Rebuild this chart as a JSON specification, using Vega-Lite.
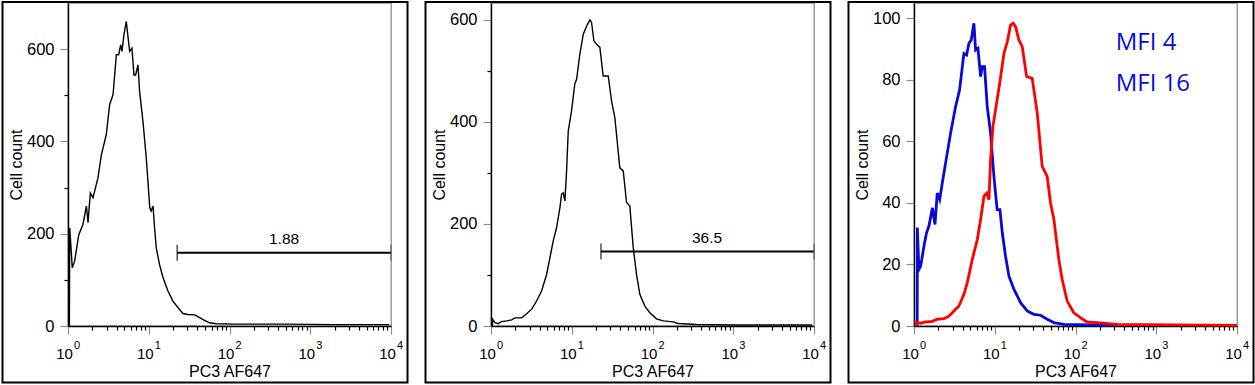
{
  "$schema": "https://vega.github.io/schema/vega-lite/v6.json",
  "padding": 0,
  "background": "white",
  "spacing": 13,
  "config": {
    "font": "Liberation Sans",
    "view": {"stroke": "#8c8c8c", "strokeWidth": 1.3},
    "axis": {"grid": false, "domainColor": "black", "domainWidth": 1.4, "labelColor": "black", "titleColor": "black", "labelFont": "Liberation Sans", "titleFont": "Liberation Sans", "titleFontWeight": "normal", "labelFlush": false, "labelOverlap": false, "tickWidth": 1.2}
  },
  "datasets": {
    "p1": [
      {"x": 1.04, "count": 0}, {"x": 1.05, "count": 213}, {"x": 1.13, "count": 126}, {"x": 1.21, "count": 141}, {"x": 1.36, "count": 198}, {"x": 1.53, "count": 220}, {"x": 1.69, "count": 260}, {"x": 1.77, "count": 224}, {"x": 1.89, "count": 288}, {"x": 2.04, "count": 278}, {"x": 2.35, "count": 321}, {"x": 2.59, "count": 371}, {"x": 2.98, "count": 415}, {"x": 3.28, "count": 480}, {"x": 3.61, "count": 501}, {"x": 3.97, "count": 588}, {"x": 4.24, "count": 588}, {"x": 4.49, "count": 609}, {"x": 4.66, "count": 595}, {"x": 4.93, "count": 631}, {"x": 5.27, "count": 660}, {"x": 5.53, "count": 627}, {"x": 5.8, "count": 595}, {"x": 6.19, "count": 602}, {"x": 6.56, "count": 544}, {"x": 6.88, "count": 544}, {"x": 7.35, "count": 566}, {"x": 7.71, "count": 508}, {"x": 8.48, "count": 443}, {"x": 9.32, "count": 364}, {"x": 10.3, "count": 256}, {"x": 10.7, "count": 249}, {"x": 11.3, "count": 260}, {"x": 11.8, "count": 213}, {"x": 12.4, "count": 169}, {"x": 13.6, "count": 133}, {"x": 15.0, "count": 105}, {"x": 17.3, "count": 76}, {"x": 19.9, "count": 54}, {"x": 23.0, "count": 40}, {"x": 26.5, "count": 27}, {"x": 30.6, "count": 25}, {"x": 37.0, "count": 24}, {"x": 42.6, "count": 18}, {"x": 49.1, "count": 12}, {"x": 56.6, "count": 7}, {"x": 68.5, "count": 5}, {"x": 116, "count": 4}, {"x": 500, "count": 4}, {"x": 2000, "count": 3}, {"x": 9500, "count": 3}
    ],
    "p2": [
      {"x": 1.04, "count": 0}, {"x": 1.05, "count": 13}, {"x": 1.12, "count": 6.5}, {"x": 1.23, "count": 4.6}, {"x": 1.35, "count": 8.5}, {"x": 1.56, "count": 10}, {"x": 1.8, "count": 12}, {"x": 1.98, "count": 16}, {"x": 2.39, "count": 16}, {"x": 2.76, "count": 24}, {"x": 3.19, "count": 33}, {"x": 3.67, "count": 49}, {"x": 4.24, "count": 69}, {"x": 4.88, "count": 101}, {"x": 5.37, "count": 134}, {"x": 5.9, "count": 167}, {"x": 6.49, "count": 193}, {"x": 7.14, "count": 232}, {"x": 7.48, "count": 258}, {"x": 7.85, "count": 261}, {"x": 8.23, "count": 245}, {"x": 8.63, "count": 304}, {"x": 9.05, "count": 382}, {"x": 9.95, "count": 422}, {"x": 10.9, "count": 474}, {"x": 11.5, "count": 484}, {"x": 12.6, "count": 533}, {"x": 13.9, "count": 572}, {"x": 15.3, "count": 588}, {"x": 16.8, "count": 600}, {"x": 17.6, "count": 595}, {"x": 18.8, "count": 559}, {"x": 20.3, "count": 552}, {"x": 22.3, "count": 546}, {"x": 24.5, "count": 490}, {"x": 28.3, "count": 490}, {"x": 31.1, "count": 441}, {"x": 34.2, "count": 408}, {"x": 39.4, "count": 310}, {"x": 43.4, "count": 304}, {"x": 47.7, "count": 242}, {"x": 52.4, "count": 235}, {"x": 57.7, "count": 154}, {"x": 63.4, "count": 101}, {"x": 69.7, "count": 62}, {"x": 80.4, "count": 39}, {"x": 92.7, "count": 26}, {"x": 112, "count": 14}, {"x": 136, "count": 10}, {"x": 180, "count": 8}, {"x": 208, "count": 5}, {"x": 350, "count": 3}, {"x": 1000, "count": 2}, {"x": 9500, "count": 2}
    ],
    "p3": [
      {"sample": "MFI 4", "x": 1.095, "count": 0}, {"sample": "MFI 4", "x": 1.1, "count": 32}, {"sample": "MFI 4", "x": 1.15, "count": 18.4}, {"sample": "MFI 4", "x": 1.21, "count": 19.5}, {"sample": "MFI 4", "x": 1.33, "count": 26}, {"sample": "MFI 4", "x": 1.43, "count": 30.3}, {"sample": "MFI 4", "x": 1.53, "count": 32.4}, {"sample": "MFI 4", "x": 1.69, "count": 38.4}, {"sample": "MFI 4", "x": 1.82, "count": 33}, {"sample": "MFI 4", "x": 1.94, "count": 43.2}, {"sample": "MFI 4", "x": 2.08, "count": 41.1}, {"sample": "MFI 4", "x": 2.24, "count": 46.5}, {"sample": "MFI 4", "x": 2.58, "count": 56.2}, {"sample": "MFI 4", "x": 2.84, "count": 62.7}, {"sample": "MFI 4", "x": 3.28, "count": 71.4}, {"sample": "MFI 4", "x": 3.67, "count": 76.8}, {"sample": "MFI 4", "x": 4.15, "count": 88.6}, {"sample": "MFI 4", "x": 4.48, "count": 88.1}, {"sample": "MFI 4", "x": 4.79, "count": 91.9}, {"sample": "MFI 4", "x": 5.12, "count": 93}, {"sample": "MFI 4", "x": 5.52, "count": 98.4}, {"sample": "MFI 4", "x": 5.79, "count": 89.7}, {"sample": "MFI 4", "x": 6.19, "count": 90.3}, {"sample": "MFI 4", "x": 6.68, "count": 81.1}, {"sample": "MFI 4", "x": 7.0, "count": 84.3}, {"sample": "MFI 4", "x": 7.48, "count": 84.3}, {"sample": "MFI 4", "x": 8.07, "count": 71.4}, {"sample": "MFI 4", "x": 8.88, "count": 62.7}, {"sample": "MFI 4", "x": 9.77, "count": 48.6}, {"sample": "MFI 4", "x": 10.7, "count": 37.8}, {"sample": "MFI 4", "x": 11.6, "count": 37.8}, {"sample": "MFI 4", "x": 12.4, "count": 30.3}, {"sample": "MFI 4", "x": 13.6, "count": 22.7}, {"sample": "MFI 4", "x": 15.0, "count": 16.2}, {"sample": "MFI 4", "x": 17.3, "count": 11.9}, {"sample": "MFI 4", "x": 20.9, "count": 7.6}, {"sample": "MFI 4", "x": 25.2, "count": 4.9}, {"sample": "MFI 4", "x": 30.5, "count": 3.8}, {"sample": "MFI 4", "x": 36.9, "count": 3.5}, {"sample": "MFI 4", "x": 44.6, "count": 2.2}, {"sample": "MFI 4", "x": 54.0, "count": 1.1}, {"sample": "MFI 4", "x": 71.8, "count": 0.5}, {"sample": "MFI 4", "x": 328, "count": 0.2},
      {"sample": "MFI 16", "x": 1.075, "count": 0}, {"sample": "MFI 16", "x": 1.08, "count": 1.3}, {"sample": "MFI 16", "x": 1.21, "count": 0.9}, {"sample": "MFI 16", "x": 1.39, "count": 1.3}, {"sample": "MFI 16", "x": 1.69, "count": 1.5}, {"sample": "MFI 16", "x": 1.94, "count": 2.2}, {"sample": "MFI 16", "x": 2.35, "count": 2.4}, {"sample": "MFI 16", "x": 2.71, "count": 3.2}, {"sample": "MFI 16", "x": 3.12, "count": 4.9}, {"sample": "MFI 16", "x": 3.6, "count": 6.5}, {"sample": "MFI 16", "x": 4.15, "count": 10.3}, {"sample": "MFI 16", "x": 4.57, "count": 14.1}, {"sample": "MFI 16", "x": 5.27, "count": 21.6}, {"sample": "MFI 16", "x": 6.08, "count": 28.1}, {"sample": "MFI 16", "x": 6.68, "count": 34.6}, {"sample": "MFI 16", "x": 7.35, "count": 42.2}, {"sample": "MFI 16", "x": 7.93, "count": 43.2}, {"sample": "MFI 16", "x": 8.47, "count": 41.1}, {"sample": "MFI 16", "x": 8.88, "count": 54.1}, {"sample": "MFI 16", "x": 9.49, "count": 64.9}, {"sample": "MFI 16", "x": 10.7, "count": 73.5}, {"sample": "MFI 16", "x": 11.6, "count": 79.5}, {"sample": "MFI 16", "x": 13.0, "count": 88.6}, {"sample": "MFI 16", "x": 14.3, "count": 92.4}, {"sample": "MFI 16", "x": 15.7, "count": 97.8}, {"sample": "MFI 16", "x": 16.9, "count": 98.4}, {"sample": "MFI 16", "x": 18.1, "count": 97.3}, {"sample": "MFI 16", "x": 19.9, "count": 93}, {"sample": "MFI 16", "x": 21.9, "count": 90.8}, {"sample": "MFI 16", "x": 24.8, "count": 81.1}, {"sample": "MFI 16", "x": 29.1, "count": 80.5}, {"sample": "MFI 16", "x": 33.6, "count": 69.2}, {"sample": "MFI 16", "x": 38.7, "count": 51.9}, {"sample": "MFI 16", "x": 44.6, "count": 48.6}, {"sample": "MFI 16", "x": 49.1, "count": 40}, {"sample": "MFI 16", "x": 54, "count": 34.6}, {"sample": "MFI 16", "x": 62.2, "count": 21.6}, {"sample": "MFI 16", "x": 68.4, "count": 15.1}, {"sample": "MFI 16", "x": 78.9, "count": 8.1}, {"sample": "MFI 16", "x": 95.3, "count": 4.3}, {"sample": "MFI 16", "x": 115, "count": 2.7}, {"sample": "MFI 16", "x": 139, "count": 1.3}, {"sample": "MFI 16", "x": 185, "count": 1.1}, {"sample": "MFI 16", "x": 328, "count": 0.5}, {"sample": "MFI 16", "x": 10000, "count": 0.2}
    ],
    "gate1": [{"x1": 22.5, "x2": 10000, "y": 159, "pct": "1.88"}],
    "gate2": [{"x1": 23, "x2": 10000, "y": 146, "pct": "36.5"}],
    "mfi": [{"label": "MFI 4"}, {"label": "MFI 16"}],
    "decades": [{"v": 1, "e": "0"}, {"v": 10, "e": "1"}, {"v": 100, "e": "2"}, {"v": 1000, "e": "3"}, {"v": 10000, "e": "4"}]
  },
  "hconcat": [
    {
      "width": 323, "height": 323,
      "layer": [
        {
          "data": {"values": [{}]},
          "mark": {"type": "rect", "fill": "transparent", "stroke": "black", "strokeWidth": 2, "clip": false},
          "encoding": {
            "x": {"datum": 0.1545, "type": "quantitative"},
            "x2": {"datum": 16008},
            "y": {"datum": 702.17, "type": "quantitative"},
            "y2": {"datum": -122.44}
          }
        },
        {
          "data": {"name": "p1"},
          "mark": {"type": "line", "color": "black", "strokeWidth": 1.4},
          "encoding": {
            "x": {"field": "x", "type": "quantitative", "scale": {"type": "log", "domain": [1, 10000], "nice": false},
              "axis": {"title": "PC3 AF647", "labelFontSize": 15, "titleFontSize": 16, "labelPadding": 12, "labelOffset": -4, "titlePadding": 2,
                "values": [1,2,3,4,5,6,7,8,9,10,20,30,40,50,60,70,80,90,100,200,300,400,500,600,700,800,900,1000,2000,3000,4000,5000,6000,7000,8000,9000,10000],
                "labelExpr": "datum.value === 1 || datum.value === 10 || datum.value === 100 || datum.value === 1000 || datum.value === 10000 ? '10' : ''",
                "tickColor": {"condition": {"test": "datum.value === 1 || datum.value === 10 || datum.value === 100 || datum.value === 1000 || datum.value === 10000", "value": "#8c8c8c"}, "value": "black"},
                "tickSize": {"condition": {"test": "datum.value === 1 || datum.value === 10 || datum.value === 100 || datum.value === 1000 || datum.value === 10000", "value": 8}, "value": 4}}},
            "y": {"field": "count", "type": "quantitative", "scale": {"domain": [0, 700], "nice": false},
              "axis": {"title": "Cell count", "labelFontSize": 16.5, "titleFontSize": 16, "labelPadding": 6, "titlePadding": 2,
                "values": [0,50,100,150,200,250,300,350,400,450,500,550,600,650],
                "labelExpr": "datum.value % 200 === 0 ? datum.label : ''",
                "tickColor": {"condition": {"test": "datum.value % 200 === 0", "value": "#8c8c8c"}, "value": "black"},
                "tickSize": {"condition": {"test": "datum.value % 200 === 0", "value": 8}, "value": 4}}}
          }
        },
        {
          "data": {"name": "decades"},
          "mark": {"type": "text", "font": "Liberation Sans", "fontSize": 11, "align": "left", "baseline": "alphabetic", "dx": 6, "dy": 23.3, "color": "black", "clip": false},
          "encoding": {"x": {"field": "v", "type": "quantitative"}, "y": {"datum": 0, "type": "quantitative"}, "text": {"field": "e"}}
        },
        {
          "data": {"name": "gate1"},
          "mark": {"type": "rule", "color": "black", "strokeWidth": 2},
          "encoding": {"x": {"field": "x1", "type": "quantitative"}, "x2": {"field": "x2"}, "y": {"field": "y", "type": "quantitative"}}
        },
        {
          "data": {"name": "gate1"},
          "mark": {"type": "tick", "orient": "vertical", "color": "black", "size": 16, "thickness": 1.5},
          "encoding": {"x": {"field": "x1", "type": "quantitative"}, "y": {"field": "y", "type": "quantitative"}}
        },
        {
          "data": {"name": "gate1"},
          "mark": {"type": "tick", "orient": "vertical", "color": "#555555", "size": 16, "thickness": 1.5},
          "encoding": {"x": {"field": "x2", "type": "quantitative"}, "y": {"field": "y", "type": "quantitative"}}
        },
        {
          "data": {"name": "gate1"},
          "mark": {"type": "text", "font": "Liberation Sans", "fontSize": 15.5, "baseline": "middle", "dy": -14, "color": "black"},
          "encoding": {"x": {"datum": 474, "type": "quantitative"}, "y": {"field": "y", "type": "quantitative"}, "text": {"field": "pct"}}
        }
      ]
    },
    {
      "width": 323, "height": 323,
      "layer": [
        {
          "data": {"values": [{}]},
          "mark": {"type": "rect", "fill": "transparent", "stroke": "black", "strokeWidth": 2, "clip": false},
          "encoding": {
            "x": {"datum": 0.1545, "type": "quantitative"},
            "x2": {"datum": 16008},
            "y": {"datum": 634.96, "type": "quantitative"},
            "y2": {"datum": -110.73}
          }
        },
        {
          "data": {"name": "p2"},
          "mark": {"type": "line", "color": "black", "strokeWidth": 1.4},
          "encoding": {
            "x": {"field": "x", "type": "quantitative", "scale": {"type": "log", "domain": [1, 10000], "nice": false},
              "axis": {"title": "PC3 AF647", "labelFontSize": 15, "titleFontSize": 16, "labelPadding": 12, "labelOffset": -4, "titlePadding": 2,
                "values": [1,2,3,4,5,6,7,8,9,10,20,30,40,50,60,70,80,90,100,200,300,400,500,600,700,800,900,1000,2000,3000,4000,5000,6000,7000,8000,9000,10000],
                "labelExpr": "datum.value === 1 || datum.value === 10 || datum.value === 100 || datum.value === 1000 || datum.value === 10000 ? '10' : ''",
                "tickColor": {"condition": {"test": "datum.value === 1 || datum.value === 10 || datum.value === 100 || datum.value === 1000 || datum.value === 10000", "value": "#8c8c8c"}, "value": "black"},
                "tickSize": {"condition": {"test": "datum.value === 1 || datum.value === 10 || datum.value === 100 || datum.value === 1000 || datum.value === 10000", "value": 8}, "value": 4}}},
            "y": {"field": "count", "type": "quantitative", "scale": {"domain": [0, 633], "nice": false},
              "axis": {"title": "Cell count", "labelFontSize": 16.5, "titleFontSize": 16, "labelPadding": 6, "titlePadding": 2,
                "values": [0,50,100,150,200,250,300,350,400,450,500,550,600],
                "labelExpr": "datum.value % 200 === 0 ? datum.label : ''",
                "tickColor": {"condition": {"test": "datum.value % 200 === 0", "value": "#8c8c8c"}, "value": "black"},
                "tickSize": {"condition": {"test": "datum.value % 200 === 0", "value": 8}, "value": 4}}}
          }
        },
        {
          "data": {"name": "decades"},
          "mark": {"type": "text", "font": "Liberation Sans", "fontSize": 11, "align": "left", "baseline": "alphabetic", "dx": 6, "dy": 23.3, "color": "black", "clip": false},
          "encoding": {"x": {"field": "v", "type": "quantitative"}, "y": {"datum": 0, "type": "quantitative"}, "text": {"field": "e"}}
        },
        {
          "data": {"name": "gate2"},
          "mark": {"type": "rule", "color": "black", "strokeWidth": 2},
          "encoding": {"x": {"field": "x1", "type": "quantitative"}, "x2": {"field": "x2"}, "y": {"field": "y", "type": "quantitative"}}
        },
        {
          "data": {"name": "gate2"},
          "mark": {"type": "tick", "orient": "vertical", "color": "black", "size": 16, "thickness": 1.5},
          "encoding": {"x": {"field": "x1", "type": "quantitative"}, "y": {"field": "y", "type": "quantitative"}}
        },
        {
          "data": {"name": "gate2"},
          "mark": {"type": "tick", "orient": "vertical", "color": "#555555", "size": 16, "thickness": 1.5},
          "encoding": {"x": {"field": "x2", "type": "quantitative"}, "y": {"field": "y", "type": "quantitative"}}
        },
        {
          "data": {"name": "gate2"},
          "mark": {"type": "text", "font": "Liberation Sans", "fontSize": 15.5, "baseline": "middle", "dy": -14, "color": "black"},
          "encoding": {"x": {"datum": 474, "type": "quantitative"}, "y": {"field": "y", "type": "quantitative"}, "text": {"field": "pct"}}
        }
      ]
    },
    {
      "width": 323, "height": 323,
      "layer": [
        {
          "data": {"values": [{}]},
          "mark": {"type": "rect", "fill": "transparent", "stroke": "black", "strokeWidth": 2, "clip": false},
          "encoding": {
            "x": {"datum": 0.1545, "type": "quantitative"},
            "x2": {"datum": 16008},
            "y": {"datum": 105.33, "type": "quantitative"},
            "y2": {"datum": -18.37}
          }
        },
        {
          "data": {"name": "p3"},
          "transform": [{"filter": {"field": "sample", "equal": "MFI 4"}}],
          "mark": {"type": "line", "color": "#0a0ad6", "strokeWidth": 2.8},
          "encoding": {
            "x": {"field": "x", "type": "quantitative", "scale": {"type": "log", "domain": [1, 10000], "nice": false},
              "axis": {"title": "PC3 AF647", "labelFontSize": 15, "titleFontSize": 16, "labelPadding": 12, "labelOffset": -4, "titlePadding": 2,
                "values": [1,2,3,4,5,6,7,8,9,10,20,30,40,50,60,70,80,90,100,200,300,400,500,600,700,800,900,1000,2000,3000,4000,5000,6000,7000,8000,9000,10000],
                "labelExpr": "datum.value === 1 || datum.value === 10 || datum.value === 100 || datum.value === 1000 || datum.value === 10000 ? '10' : ''",
                "tickColor": {"condition": {"test": "datum.value === 1 || datum.value === 10 || datum.value === 100 || datum.value === 1000 || datum.value === 10000", "value": "#8c8c8c"}, "value": "black"},
                "tickSize": {"condition": {"test": "datum.value === 1 || datum.value === 10 || datum.value === 100 || datum.value === 1000 || datum.value === 10000", "value": 8}, "value": 4}}},
            "y": {"field": "count", "type": "quantitative", "scale": {"domain": [0, 105], "nice": false},
              "axis": {"title": "Cell count", "labelFontSize": 16.5, "titleFontSize": 16, "labelPadding": 6, "titlePadding": 2,
                "values": [0,5,10,15,20,25,30,35,40,45,50,55,60,65,70,75,80,85,90,95,100],
                "labelExpr": "datum.value % 20 === 0 ? datum.label : ''",
                "tickColor": {"condition": {"test": "datum.value % 20 === 0", "value": "#8c8c8c"}, "value": "black"},
                "tickSize": {"condition": {"test": "datum.value % 20 === 0", "value": 8}, "value": 4}}}
          }
        },
        {
          "data": {"name": "p3"},
          "transform": [{"filter": {"field": "sample", "equal": "MFI 16"}}],
          "mark": {"type": "line", "color": "#ff0000", "strokeWidth": 2.8},
          "encoding": {"x": {"field": "x", "type": "quantitative"}, "y": {"field": "count", "type": "quantitative"}}
        },
        {
          "data": {"name": "decades"},
          "mark": {"type": "text", "font": "Liberation Sans", "fontSize": 11, "align": "left", "baseline": "alphabetic", "dx": 6, "dy": 23.3, "color": "black", "clip": false},
          "encoding": {"x": {"field": "v", "type": "quantitative"}, "y": {"datum": 0, "type": "quantitative"}, "text": {"field": "e"}}
        },
        {
          "data": {"name": "mfi"},
          "transform": [{"filter": {"field": "label", "equal": "MFI 4"}}],
          "mark": {"type": "text", "font": "Open Sans", "fontSize": 24, "color": "#0a0ae6", "align": "left", "baseline": "alphabetic"},
          "encoding": {"x": {"datum": 315, "type": "quantitative"}, "y": {"datum": 89.6, "type": "quantitative"}, "text": {"field": "label"}}
        },
        {
          "data": {"name": "mfi"},
          "transform": [{"filter": {"field": "label", "equal": "MFI 16"}}],
          "mark": {"type": "text", "font": "Open Sans", "fontSize": 24, "color": "#0a0ae6", "align": "left", "baseline": "alphabetic"},
          "encoding": {"x": {"datum": 315, "type": "quantitative"}, "y": {"datum": 76.4, "type": "quantitative"}, "text": {"field": "label"}}
        }
      ]
    }
  ]
}
